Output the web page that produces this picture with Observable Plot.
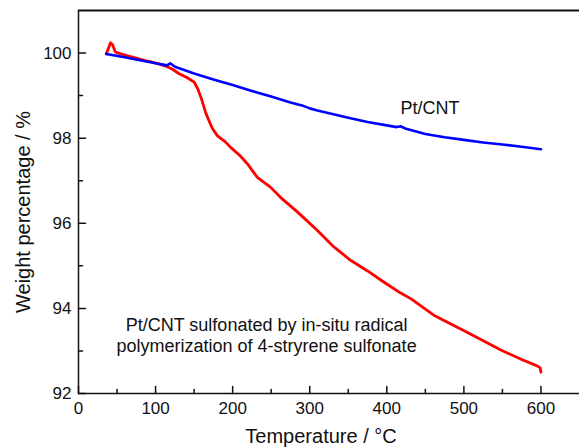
<!DOCTYPE html>
<html>
<head>
<meta charset="utf-8">
<script src="https://cdn.jsdelivr.net/npm/d3@7"></script>
<script src="https://cdn.jsdelivr.net/npm/@observablehq/plot@0.6"></script>
<style>
  html, body { margin: 0; padding: 0; background: #fff; }
</style>
</head>
<body>
<div id="chart"></div>
<script>
// Pt/CNT (blue)
const blueT = [36, 60, 80, 100, 115, 119, 122, 126, 150, 175, 200, 225, 250, 275, 290, 300, 310, 350, 375, 400, 413, 418, 425, 450, 475, 500, 525, 550, 575, 600];
const blueW = [99.98, 99.9, 99.83, 99.76, 99.71, 99.76, 99.72, 99.67, 99.52, 99.38, 99.25, 99.11, 98.98, 98.84, 98.77, 98.7, 98.65, 98.48, 98.38, 98.3, 98.26, 98.28, 98.22, 98.1, 98.02, 97.96, 97.9, 97.85, 97.8, 97.74];
// Pt/CNT sulfonated (red)
const redT = [36, 39, 41.5, 44, 48, 55, 65, 75, 85, 95, 105, 115, 122, 130, 140, 150, 155, 160, 165, 169, 174, 180, 190, 197, 210, 219, 232, 249, 262, 285, 310, 331, 353, 375, 396, 418, 431, 461, 504, 548, 575, 595, 599, 600];
const redW = [99.98, 100.12, 100.24, 100.2, 100.02, 99.98, 99.93, 99.88, 99.83, 99.79, 99.74, 99.68, 99.62, 99.52, 99.43, 99.32, 99.15, 98.9, 98.6, 98.42, 98.22, 98.06, 97.92, 97.79, 97.58, 97.4, 97.08, 96.85, 96.61, 96.25, 95.83, 95.45, 95.13, 94.88, 94.62, 94.36, 94.23, 93.84, 93.44, 93.02, 92.8, 92.65, 92.6, 92.5];

const xMajor = [0, 100, 200, 300, 400, 500, 600];
const xMinor = [50, 150, 250, 350, 450, 550];
const yMajor = [92, 94, 96, 98, 100];
const yMinor = [93, 95, 97, 99];

const labelBlue = ["Pt/CNT"];
const labelBlueT = [456];
const labelBlueW = [98.70];
const labelRed = ["Pt/CNT sulfonated by in-situ radical\npolymerization of 4-stryrene sulfonate"];
const labelRedT = [244];
const labelRedW = [93.38];

const blue = blueT.map((t, i) => ({t, w: blueW[i]}));
const red = redT.map((t, i) => ({t, w: redW[i]}));

const tickShape = {draw(context, l) { context.moveTo(0, 0); context.lineTo(0, -l); }};

const chart = Plot.plot({
  width: 579,
  height: 448,
  marginLeft: 78,
  marginRight: 0,
  marginTop: 10,
  marginBottom: 55,
  style: {fontFamily: "'Liberation Sans', Arial, Helvetica, sans-serif", color: "#111", background: "#fff"},
  x: {domain: [0, 650]},
  y: {domain: [92, 101]},
  marks: [
    Plot.line(red, {x: "t", y: "w", stroke: "#ff0000", strokeWidth: 2.8}),
    Plot.line(blue, {x: "t", y: "w", stroke: "#0000ff", strokeWidth: 2.6}),
    // frame lines (left, bottom, top)
    Plot.ruleY([92], {stroke: "#111", strokeWidth: 1.5}),
    Plot.ruleY([101], {stroke: "#111", strokeWidth: 2}),
    Plot.ruleX([0], {stroke: "#111", strokeWidth: 1.5}),
    // inward ticks
    Plot.vector(xMajor, {x: d => d, y: 92, length: 7, anchor: "start", rotate: 0, shape: tickShape, stroke: "#111", strokeWidth: 1.5}),
    Plot.vector(xMinor, {x: d => d, y: 92, length: 4, anchor: "start", rotate: 0, shape: tickShape, stroke: "#111", strokeWidth: 1.5}),
    Plot.vector(yMajor, {x: 0, y: d => d, length: 7, anchor: "start", rotate: 90, shape: tickShape, stroke: "#111", strokeWidth: 1.5}),
    Plot.vector(yMinor, {x: 0, y: d => d, length: 4, anchor: "start", rotate: 90, shape: tickShape, stroke: "#111", strokeWidth: 1.5}),
    // tick labels
    Plot.axisX({ticks: xMajor, tickSize: 0, tickPadding: 8, fontSize: 17, label: null}),
    Plot.axisY({ticks: yMajor, tickSize: 0, tickPadding: 7, fontSize: 17, label: null}),
    // axis titles
    Plot.text(["Temperature / °C"], {frameAnchor: "bottom", text: d => d, dx: -8, dy: 43, fontSize: 20, textAnchor: "middle", lineAnchor: "middle", fill: "#111"}),
    Plot.text(["Weight percentage / %"], {frameAnchor: "left", text: d => d, dx: -55, dy: 10, rotate: -90, fontSize: 20, textAnchor: "middle", lineAnchor: "middle", fill: "#111"}),
    // annotations
    Plot.text(labelBlue, {x: (d, i) => labelBlueT[i], y: (d, i) => labelBlueW[i], text: d => d, fontSize: 18, textAnchor: "middle", lineAnchor: "middle", fill: "#111"}),
    Plot.text(labelRed, {x: (d, i) => labelRedT[i], y: (d, i) => labelRedW[i], text: d => d, fontSize: 18, textAnchor: "middle", lineAnchor: "middle", lineHeight: 1.18, fill: "#111"})
  ]
});
document.getElementById("chart").appendChild(chart);
</script>
</body>
</html>
